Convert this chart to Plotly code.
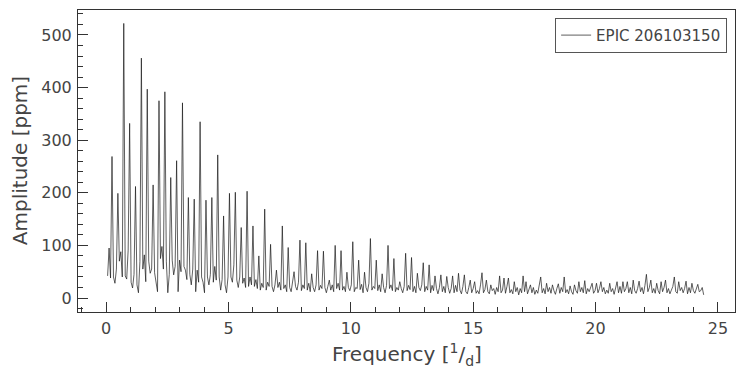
import numpy as np
import plotly.graph_objects as go

# Frequency grid step of the periodogram (1/d); amplitudes are listed in rows of
# four consecutive grid samples (0.24 1/d per row).
freq_step = 0.06

amp_0_5 = [
    42, 95, 38, 269,
    40, 28, 55, 199,
    70, 88, 40, 522,
    42, 36, 91, 332,
    30, 19, 45, 212,
    25, 10, 69, 456,
    55, 82, 31, 397,
    70, 47, 55, 215,
    48, 25, 12, 375,
    75, 98, 55, 392,
    70, 10, 45, 229,
    72, 44, 60, 261,
    12, 72, 50, 371,
    60, 53, 35, 191,
    45, 25, 55, 188,
    12, 53, 30, 335,
    40, 30, 10, 186,
    40, 25, 45, 191,
    30, 60, 34, 272,
    40, 15, 35, 156,
    25, 10, 40, 199,
]
amp_5_10 = [
    40, 30, 63, 201,
    34, 20, 40, 134,
    28, 38, 20, 203,
    22, 40, 25, 137,
    22, 35, 18, 80,
    15, 28, 20, 169,
    15, 30, 22, 102,
    22, 12, 25, 53,
    20, 30, 15, 137,
    18, 25, 12, 96,
    20, 12, 28, 50,
    22, 15, 30, 110,
    14, 25, 18, 105,
    15, 28, 12, 46,
    20, 12, 25, 90,
    15, 24, 18, 89,
    20, 10, 22, 34,
    15, 25, 12, 100,
    18, 28, 15, 90,
    15, 22, 12, 49,
    20, 14, 25, 107,
]
amp_10_15 = [
    12, 20, 18, 72,
    16, 26, 10, 49,
    20, 12, 28, 113,
    15, 22, 18, 72,
    14, 25, 12, 46,
    20, 10, 24, 100,
    18, 25, 14, 75,
    12, 20, 15, 31,
    18, 10, 22, 85,
    14, 24, 16, 77,
    12, 22, 10, 47,
    20, 14, 25, 67,
    12, 22, 15, 63,
    10, 24, 14, 42,
    18, 8, 20, 44,
    12, 22, 10, 41,
    20, 9, 18, 42,
    10, 24, 12, 47,
    15, 8, 22, 44,
    12, 8, 20, 34,
    10, 18, 31, 9,
]
amp_15_20 = [
    14, 8, 25, 48,
    10, 16, 34, 12,
    8, 25, 14, 18,
    7, 20, 12, 42,
    10, 15, 38, 9,
    22, 38, 10, 16,
    8, 31, 12, 20,
    6, 18, 10, 42,
    12, 31, 8, 18,
    25, 10, 20, 7,
    15, 9, 22, 40,
    10, 18, 8, 28,
    12, 20, 9, 25,
    14, 7, 18, 27,
    9, 20, 12, 40,
    10, 16, 8, 23,
    12, 7, 25, 14,
    9, 31, 12, 20,
    10, 33, 8, 18,
    12, 20, 28, 9,
    14, 28, 10, 18,
]
amp_20_25 = [
    31, 12, 20, 8,
    15, 9, 28, 12,
    18, 7, 20, 31,
    10, 22, 9, 31,
    12, 18, 31, 10,
    20, 8, 34, 14,
    9, 18, 32, 12,
    20, 8, 24, 45,
    12, 20, 34, 10,
    18, 9, 28, 14,
    8, 31, 12, 20,
    34, 10, 18, 8,
    15, 22, 40, 12,
    9, 31, 14, 20,
    10, 18, 32, 8,
    20, 10, 28, 14,
    9, 18, 26, 12,
    14, 20, 6,
]

amplitude = np.array(amp_0_5 + amp_5_10 + amp_10_15 + amp_15_20 + amp_20_25, dtype=float)
frequency = freq_step * np.arange(1, len(amplitude) + 1)

series_label = "EPIC 206103150"
x_title = "Frequency [<sup>1</sup>/<sub>d</sub>]"
y_title = "Amplitude [ppm]"

TXT = "#444444"
AX = "#333333"
FONT = "DejaVu Sans"

fig = go.Figure()
fig.add_trace(go.Scatter(
    x=frequency, y=amplitude, mode="lines", name=series_label,
    line=dict(color="#1a1a1a", width=0.7), showlegend=True,
))

axis_common = dict(
    showgrid=False, zeroline=False, showline=True, linecolor=AX, linewidth=1,
    mirror=True, ticks="inside", ticklen=10, tickwidth=1, tickcolor=AX,
    tickfont=dict(family=FONT, size=16, color=TXT),
    automargin=False,
)

fig.update_layout(
    width=736, height=373, autosize=False,
    margin=dict(l=70, r=9, t=2, b=69),
    paper_bgcolor="white", plot_bgcolor="white",
    font=dict(family=FONT, color=TXT),
    xaxis=dict(
        range=[-1.15, 25.7], tickmode="linear", tick0=0, dtick=5,
        minor=dict(ticks="inside", dtick=1, tick0=0, ticklen=5, tickcolor=AX),
        ticklabelstandoff=2,
        **axis_common,
    ),
    yaxis=dict(
        range=[-26.6, 547.5], tickmode="linear", tick0=0, dtick=100,
        minor=dict(ticks="inside", dtick=20, tick0=0, ticklen=5, tickcolor=AX),
        ticklabelstandoff=2,
        **axis_common,
    ),
    legend=dict(
        x=0.988, y=0.974, xanchor="right", yanchor="top",
        bgcolor="rgba(255,255,255,0.8)", bordercolor="#555555", borderwidth=1,
        font=dict(family=FONT, size=15, color=TXT), itemwidth=30,
        tracegroupgap=0,
    ),
    annotations=[
        dict(text=x_title, xref="paper", yref="paper", x=0.5, y=-0.142,
             xanchor="center", yanchor="middle", showarrow=False,
             font=dict(family=FONT, size=20, color=TXT)),
        dict(text=y_title, xref="paper", yref="paper", x=-0.088, y=0.5,
             xanchor="center", yanchor="middle", showarrow=False, textangle=-90,
             font=dict(family=FONT, size=20, color=TXT)),
    ],
)

fig.write_html("out.html")
